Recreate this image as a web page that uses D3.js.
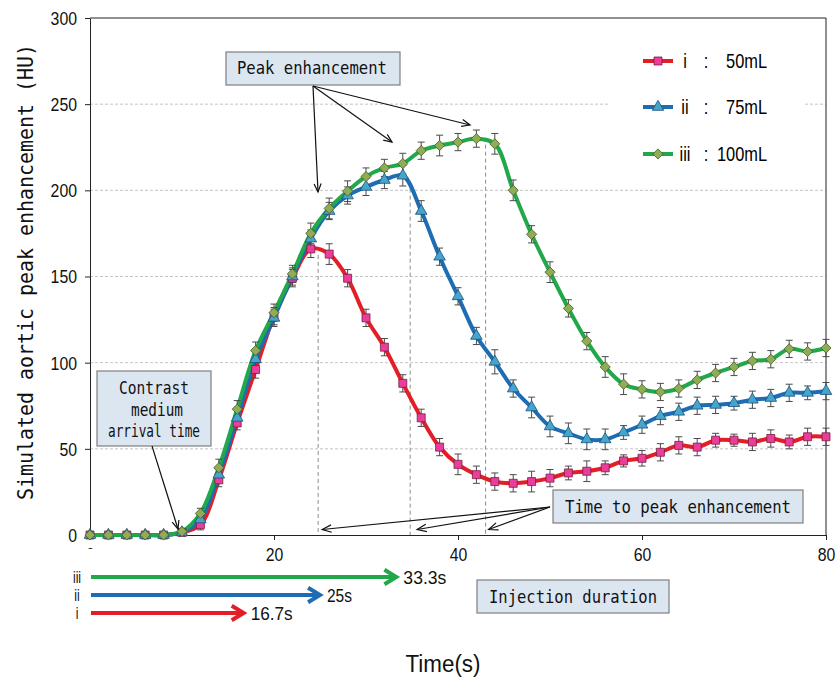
<!DOCTYPE html>
<html>
<head>
<meta charset="utf-8">
<script src="https://cdn.jsdelivr.net/npm/d3@7/dist/d3.min.js"></script>
<style>
  body { margin: 0; background: #fff; }
  svg { display: block; }
</style>
</head>
<body>
<div id="chart"></div>
<script>
  // time axis (s), one sample every 2 s
  var times = [0, 2, 4, 6, 8, 10, 12, 14, 16, 18, 20, 22, 24, 26, 28, 30, 32, 34, 36, 38, 40,
               42, 44, 46, 48, 50, 52, 54, 56, 58, 60, 62, 64, 66, 68, 70, 72, 74, 76, 78, 80];

  // simulated aortic enhancement (HU)
  var hu50 = [0, 0, 0, 0, 0, 1.5, 6, 32, 65, 96, 127, 149, 166, 163, 149, 126, 109, 88, 68, 51, 41,
              35, 31, 30, 31, 33, 36, 37, 39, 43, 44.5, 48, 52, 51, 55, 55, 54, 56, 54, 57, 57];
  var hu75 = [0, 0, 0, 0, 0, 1.5, 9, 35, 68, 102, 126, 150, 172, 188, 197, 202, 206, 208.5, 188, 161.5, 138.5,
              115.5, 100.5, 85, 74, 63, 59, 55.5, 55.5, 59.5, 64, 69, 71.5, 75, 75.5, 76.5, 78.5, 79.5, 82.5, 82.5, 83.5];
  var hu100 = [0, 0, 0, 0, 0, 2, 12.5, 39, 73, 107, 129, 151.5, 175, 189.5, 199.5, 208, 213, 215.5, 223, 226, 228,
               230, 227, 200, 174.5, 152.5, 131.5, 112.5, 97.5, 87.5, 84.5, 83, 85, 90, 94, 97.5, 101, 102, 108, 106.5, 108.5];

  // error bar half-widths (HU)
  var err50 = [0, 0, 0, 0, 0, 1, 3, 4, 4, 5, 5, 5, 5, 6, 5, 5, 5, 5, 5, 5, 6,
               5, 5, 5, 6, 5, 4, 6, 4, 3.5, 4.5, 5, 5, 5, 4, 3.5, 5, 5, 4, 5, 5];
  var err75 = [0, 0, 0, 0, 0, 1, 3, 4, 5, 5, 5, 5, 5, 5, 5, 5, 5, 6, 6, 5, 5,
               5, 7, 5, 6, 6, 6, 6, 6, 4, 5, 5, 5, 5, 5, 4, 5, 5, 5, 4, 5];
  var err100 = [0, 0, 0, 0, 0, 1, 3, 5, 5, 5, 5, 5, 6, 6, 6, 5, 5, 6, 5, 6, 5,
                5, 6, 6, 5, 6, 5, 5, 6, 6, 5, 5, 5, 5, 5, 5, 5, 5, 5, 5, 5];

  var seriesNames = ['i', 'ii', 'iii'];
  var seriesVolumes = ['50mL', '75mL', '100mL'];
  var peakTimes = [24.8, 34.8, 43.0];
  var peakValues = [166, 208.5, 230];
  var injectionTimes = [16.7, 25, 33.3];
  var injectionLabels = ['16.7s', '25s', '33.3s'];

  var yTicks = [0, 50, 100, 150, 200, 250, 300];
  var xTicks = [0, 20, 40, 60, 80];

  var lineColors = ['#e41e26', '#1e6db4', '#20a84a'];
  var markerFill = ['#ea3d9c', '#45a5cc', '#8fad55'];
  var markerStroke = ['#7a1f3f', '#1c4f7a', '#4d5f2a'];

  var values = [hu50, hu75, hu100];
  var errors = [err50, err75, err100];

  var W = 840, H = 677;
  var x = d3.scaleLinear().domain([0, 80]).range([90, 826]);
  var y = d3.scaleLinear().domain([0, 300]).range([535, 18]);

  var svg = d3.select('#chart').append('svg')
      .attr('width', W)
      .attr('height', H)
      .style('font-family', "'Liberation Sans', Arial, sans-serif");

  var MONO = "'DejaVu Sans Mono', 'Liberation Mono', monospace";

  // gridlines
  svg.append('g').selectAll('line')
      .data(yTicks.filter(function(d) { return d > 0 && d < 300; }))
      .enter().append('line')
      .attr('x1', x(0)).attr('x2', x(80))
      .attr('y1', function(d) { return y(d); })
      .attr('y2', function(d) { return y(d); })
      .attr('stroke', '#c4c4c4')
      .attr('stroke-width', 1)
      .attr('stroke-dasharray', '3,2');

  // legend background hides the gridline behind it
  svg.append('rect')
      .attr('x', 608).attr('y', 36).attr('width', 196).attr('height', 140)
      .attr('fill', '#fff');

  // dashed lines from each peak down to the axis
  svg.append('g').selectAll('line')
      .data(peakTimes)
      .enter().append('line')
      .attr('x1', function(d) { return x(d); })
      .attr('x2', function(d) { return x(d); })
      .attr('y1', function(d, i) { return y(peakValues[i]) + 6; })
      .attr('y2', y(0))
      .attr('stroke', '#8c8c8c')
      .attr('stroke-width', 1)
      .attr('stroke-dasharray', '4,3');

  // axes
  var yAxis = svg.append('g')
      .attr('transform', 'translate(' + x(0) + ',0)')
      .call(d3.axisLeft(y).tickValues(yTicks).tickSize(5).tickSizeOuter(0));
  yAxis.selectAll('text')
      .attr('x', 0).attr('dy', '0.36em')
      .attr('transform', 'translate(-13,0) scale(0.88,1)')
      .style('font-size', '18px')
      .attr('fill', '#111');

  var xAxis = svg.append('g')
      .attr('transform', 'translate(0,' + y(0) + ')')
      .call(d3.axisBottom(x).tickValues(xTicks).tickSize(5).tickSizeOuter(0));
  xAxis.selectAll('text')
      .attr('y', 0).attr('dy', '0.36em')
      .attr('transform', 'translate(0,20) scale(0.88,1)')
      .style('font-size', '18px')
      .attr('fill', '#111');
  svg.selectAll('.domain, .tick line').attr('stroke', '#222');

  // top and right frame
  svg.append('path')
      .attr('d', 'M' + x(0) + ',' + y(300) + 'H' + x(80) + 'V' + y(0))
      .attr('fill', 'none')
      .attr('stroke', '#222');

  // the "0" under the x axis is mostly covered in the original
  svg.append('rect')
      .attr('x', 80).attr('y', 549).attr('width', 20).attr('height', 18)
      .attr('fill', '#fff');

  // series lines
  var line = d3.line()
      .x(function(d, i) { return x(times[i]); })
      .y(function(d) { return y(d); })
      .curve(d3.curveCatmullRom.alpha(0.5));

  values.forEach(function(v, s) {
    svg.append('path')
        .attr('d', line(v))
        .attr('fill', 'none')
        .attr('stroke', lineColors[s])
        .attr('stroke-width', 4)
        .attr('stroke-linejoin', 'round');
  });

  // error bars
  values.forEach(function(v, s) {
    var g = svg.append('g')
        .attr('stroke', '#4a4a4a')
        .attr('stroke-width', 1);
    v.forEach(function(val, i) {
      var e = errors[s][i];
      if (!e) return;
      var cx = x(times[i]);
      g.append('line').attr('x1', cx).attr('x2', cx)
          .attr('y1', y(val - e)).attr('y2', y(val + e));
      g.append('line').attr('x1', cx - 3.5).attr('x2', cx + 3.5)
          .attr('y1', y(val - e)).attr('y2', y(val - e));
      g.append('line').attr('x1', cx - 3.5).attr('x2', cx + 3.5)
          .attr('y1', y(val + e)).attr('y2', y(val + e));
    });
  });

  // markers
  var symbols = [
    { type: d3.symbolSquare, size: 64, rot: 0 },
    { type: d3.symbolTriangle, size: 58, rot: 0 },
    { type: d3.symbolSquare, size: 52, rot: 45 }
  ];
  function marker(sel, s) {
    sel.attr('d', d3.symbol().type(symbols[s].type).size(symbols[s].size))
        .attr('fill', markerFill[s])
        .attr('stroke', markerStroke[s])
        .attr('stroke-width', 0.8);
  }
  values.forEach(function(v, s) {
    svg.append('g').selectAll('path')
        .data(v)
        .enter().append('path')
        .attr('transform', function(d, i) {
          return 'translate(' + x(times[i]) + ',' + y(d) + ') rotate(' + symbols[s].rot + ')';
        })
        .call(marker, s);
  });

  // legend
  var legendRows = [61, 107, 154];
  seriesNames.forEach(function(n, s) {
    var ly = legendRows[s];
    svg.append('line')
        .attr('x1', 643).attr('x2', 673).attr('y1', ly).attr('y2', ly)
        .attr('stroke', lineColors[s]).attr('stroke-width', 4);
    svg.append('path')
        .attr('transform', 'translate(658,' + ly + ') rotate(' + symbols[s].rot + ')')
        .call(marker, s);
    svg.append('text')
        .attr('transform', 'translate(685,' + (ly + 7) + ') scale(0.82,1)')
        .attr('text-anchor', 'middle')
        .style('font-size', '20px')
        .text(n);
    svg.append('text')
        .attr('transform', 'translate(706,' + (ly + 7) + ') scale(0.82,1)')
        .attr('text-anchor', 'middle')
        .style('font-size', '20px')
        .text(':');
    svg.append('text')
        .attr('transform', 'translate(767,' + (ly + 7) + ') scale(0.82,1)')
        .attr('text-anchor', 'end')
        .style('font-size', '20px')
        .text(seriesVolumes[s]);
  });

  // annotation helpers
  function arrow(x1, y1, x2, y2, color, width, len, spread) {
    var a = Math.atan2(y2 - y1, x2 - x1);
    var g = svg.append('g')
        .attr('stroke', color)
        .attr('stroke-width', width)
        .attr('fill', 'none');
    g.append('line').attr('x1', x1).attr('y1', y1).attr('x2', x2).attr('y2', y2);
    var p = d3.path();
    p.moveTo(x2 - len * Math.cos(a - spread), y2 - len * Math.sin(a - spread));
    p.lineTo(x2, y2);
    p.lineTo(x2 - len * Math.cos(a + spread), y2 - len * Math.sin(a + spread));
    g.append('path').attr('d', p.toString());
  }

  function noteBox(x0, y0, x1, y1) {
    svg.append('rect')
        .attr('x', x0).attr('y', y0)
        .attr('width', x1 - x0).attr('height', y1 - y0)
        .attr('fill', '#dce6f1')
        .attr('stroke', '#7f7f7f')
        .attr('stroke-width', 1.2);
  }

  function monoText(cx, by, str, len, size) {
    svg.append('text')
        .attr('x', cx).attr('y', by)
        .attr('text-anchor', 'middle')
        .attr('textLength', len)
        .attr('lengthAdjust', 'spacingAndGlyphs')
        .style('font-family', MONO)
        .style('font-size', (size || 17) + 'px')
        .attr('fill', '#111')
        .text(str);
  }

  // peak enhancement
  noteBox(226, 52, 400, 85);
  monoText(312, 74, 'Peak enhancement', 150);
  arrow(313, 86, 318, 192, '#111', 1.2, 9, 0.4);
  arrow(313, 86, 392, 142, '#111', 1.2, 9, 0.4);
  arrow(313, 86, 470, 125, '#111', 1.2, 9, 0.4);

  // contrast medium arrival time
  noteBox(97, 371, 211, 446);
  monoText(154, 394, 'Contrast', 70);
  monoText(157, 416, 'medium', 52);
  monoText(154, 437, 'arrival time', 92);
  arrow(152, 446, 178, 529, '#111', 1.2, 9, 0.4);

  // time to peak enhancement
  peakTimes.forEach(function(t, i) {
    arrow(550, 507, x(t) + [4, 7, 3][i], 529.5, '#111', 1.2, 10, 0.38);
  });
  noteBox(553, 490, 803, 523);
  monoText(678, 513, 'Time to peak enhancement', 226);

  // injection duration arrows
  var injRows = [613, 595, 577];
  injectionTimes.forEach(function(t, i) {
    var ry = injRows[i];
    arrow(x(0) + 1, ry, x(t), ry, lineColors[i], 4, 14, 0.55);
    svg.append('text')
        .attr('transform', 'translate(' + (x(0) - 13) + ',' + (ry + 6) + ') scale(0.82,1.1)')
        .attr('text-anchor', 'middle')
        .style('font-size', '15px')
        .attr('fill', '#111')
        .text(seriesNames[i]);
    svg.append('text')
        .attr('x', x(t) + 7).attr('y', ry + 7)
        .attr('textLength', [42, 25, 43][i])
        .attr('lengthAdjust', 'spacingAndGlyphs')
        .style('font-size', '19px')
        .attr('fill', '#111')
        .text(injectionLabels[i]);
  });
  noteBox(477, 580, 669, 613);
  monoText(573, 603, 'Injection duration', 168);

  // axis titles
  svg.append('text')
      .attr('transform', 'translate(33,272) rotate(-90)')
      .attr('text-anchor', 'middle')
      .attr('textLength', 456)
      .attr('lengthAdjust', 'spacingAndGlyphs')
      .style('font-family', MONO)
      .style('font-size', '21px')
      .attr('fill', '#111')
      .text('Simulated aortic peak enhancement  (HU)');

  svg.append('text')
      .attr('x', 443).attr('y', 672)
      .attr('text-anchor', 'middle')
      .attr('textLength', 75)
      .attr('lengthAdjust', 'spacingAndGlyphs')
      .style('font-size', '23px')
      .attr('fill', '#111')
      .text('Time(s)');
</script>
</body>
</html>
